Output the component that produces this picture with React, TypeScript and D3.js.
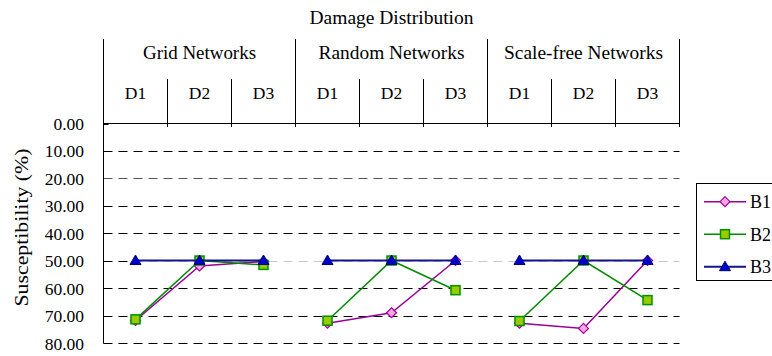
import React from "react";
import * as d3 from "d3";

const groups = ["Grid Networks", "Random Networks", "Scale-free Networks"];
const subCategories = ["D1", "D2", "D3"];
const b1Values = [71.8, 52.0, 50.4, 72.8, 69.0, 50.0, 72.8, 74.7, 50.0];
const b2Values = [71.4, 50.0, 51.6, 71.9, 50.0, 60.8, 72.0, 50.0, 64.4];
const b3Values = [50, 50, 50, 50, 50, 50, 50, 50, 50];
const yTicks = [0, 10, 20, 30, 40, 50, 60, 70, 80];
const seriesNames = ["B1", "B2", "B3"];

const FONT = "Liberation Serif, Times New Roman, DejaVu Serif, serif";
const W = 772;
const H = 356;

const groupTextWidths = [113, 146, 159];

type Series = {
  name: string;
  values: number[];
  line: string;
  stroke: string;
  fill: string;
  shape: "diamond" | "square" | "triangle";
  width: number;
};

const series: Series[] = [
  { name: seriesNames[0], values: b1Values, line: "#990099", stroke: "#a000a0", fill: "#f9a6dc", shape: "diamond", width: 1.5 },
  { name: seriesNames[1], values: b2Values, line: "#008c00", stroke: "#009000", fill: "#99cc00", shape: "square", width: 1.5 },
  { name: seriesNames[2], values: b3Values, line: "#14148a", stroke: "#000080", fill: "#0000cc", shape: "triangle", width: 2 },
];

function Marker({ s, cx, cy }: { s: Series; cx: number; cy: number }) {
  if (s.shape === "diamond") {
    const r = 5;
    return (
      <path
        d={`M${cx},${cy - r}L${cx + r},${cy}L${cx},${cy + r}L${cx - r},${cy}Z`}
        fill={s.fill}
        stroke={s.stroke}
        strokeWidth={1.2}
      />
    );
  }
  if (s.shape === "square") {
    const r = 4.5;
    return <rect x={cx - r} y={cy - r} width={2 * r} height={2 * r} fill={s.fill} stroke={s.stroke} strokeWidth={1.5} />;
  }
  const hw = 5.5;
  return (
    <path
      d={`M${cx},${cy - 5.5}L${cx + hw},${cy + 4}L${cx - hw},${cy + 4}Z`}
      fill={s.fill}
      stroke={s.stroke}
      strokeWidth={1}
    />
  );
}

export default function App() {
  const idx = d3.range(groups.length * subCategories.length);
  const x = d3.scaleBand<number>().domain(idx).range([103.5, 679.5]).padding(0);
  const bw = x.bandwidth();
  const y = d3.scaleLinear().domain([0, 80]).range([123, 343]);
  const cx = (i: number) => (x(i) as number) + bw / 2;
  const left = x.range()[0];
  const right = x.range()[1];

  const groupStart = (g: number) => x(g * 3) as number;
  const groupEnd = (g: number) => (x(g * 3 + 2) as number) + bw;

  const tStyle = { fontFamily: FONT } as React.CSSProperties;

  return (
    <svg width={W} height={H} style={{ position: "absolute", left: 0, top: 0, background: "#fff", fontFamily: FONT }}>
      {/* Title */}
      <text style={tStyle} x={(left + right) / 2} y={24} fontSize={18} textAnchor="middle" textLength={164} lengthAdjust="spacingAndGlyphs" fill="#000">
        Damage Distribution
      </text>

      {/* Group lines and labels */}
      {d3.range(groups.length + 1).map((g) => {
        const gx = g < groups.length ? groupStart(g) : groupEnd(groups.length - 1);
        return <line key={`gl${g}`} x1={gx} x2={gx} y1={39} y2={127} stroke="#000" strokeWidth={1} />;
      })}
      {groups.map((gname, g) => (
        <text
          key={`gt${g}`}
          style={tStyle}
          x={(groupStart(g) + groupEnd(g)) / 2}
          y={58.5}
          fontSize={18}
          textAnchor="middle"
          textLength={groupTextWidths[g]}
          lengthAdjust="spacingAndGlyphs"
          fill="#000"
        >
          {gname}
        </text>
      ))}
      {idx
        .filter((i) => i % 3 !== 0)
        .map((i) => (
          <line key={`sl${i}`} x1={x(i) as number} x2={x(i) as number} y1={79} y2={127} stroke="#000" strokeWidth={1} />
        ))}
      {idx.map((i) => (
        <text key={`dl${i}`} style={tStyle} x={cx(i)} y={98.5} fontSize={17.5} textAnchor="middle" fill="#000">
          {subCategories[i % 3]}
        </text>
      ))}

      {/* Gridlines */}
      {yTicks
        .filter((t) => t !== 0)
        .map((t) => {
          const yy = Math.round(y(t)) + 0.5;
          if (t === 50) {
            return (
              <g key={`g${t}`}>
                <line x1={left} x2={cx(0)} y1={yy} y2={yy} stroke="#000" strokeDasharray="9,6" />
                <line x1={cx(0)} x2={right} y1={yy} y2={yy} stroke="#c8c8c8" strokeDasharray="9,6" strokeDashoffset={(cx(0) - left) % 15} />
              </g>
            );
          }
          return <line key={`g${t}`} x1={left} x2={right} y1={yy} y2={yy} stroke={t === 20 ? "#555" : "#000"} strokeDasharray="9,6" />;
        })}

      {/* Top line and left axis */}
      <line x1={left - 0.5} x2={right} y1={123.5} y2={123.5} stroke="#000" strokeWidth={1} />
      <line x1={left} x2={left} y1={123} y2={343.5} stroke="#000" strokeWidth={1} />
      <line x1={left} x2={left + 5} y1={124.5} y2={124.5} stroke="#000" strokeWidth={1} />

      {/* Y tick labels */}
      {yTicks.map((t) => (
        <text key={`yt${t}`} style={tStyle} x={84} y={y(t) + 6.5} fontSize={17.5} textAnchor="end" fill="#000">
          {t.toFixed(2)}
        </text>
      ))}

      {/* Y axis title */}
      <text
        style={tStyle}
        transform={`translate(28,227.5) rotate(-90)`}
        fontSize={19}
        textAnchor="middle"
        textLength={158}
        lengthAdjust="spacingAndGlyphs"
        fill="#000"
      >
        Susceptibility (%)
      </text>

      {/* Series */}
      {series.map((s) => (
        <g key={s.name}>
          {groups.map((_, g) => {
            const pts = [0, 1, 2].map((k) => g * 3 + k);
            const d = d3
              .line<number>()
              .x((i) => cx(i))
              .y((i) => y(s.values[i]))(pts);
            return <path key={g} d={d || ""} fill="none" stroke={s.line} strokeWidth={s.width} />;
          })}
          {idx.map((i) => (
            <Marker key={i} s={s} cx={cx(i)} cy={y(s.values[i])} />
          ))}
        </g>
      ))}

      {/* Legend */}
      <rect x={696.5} y={183.5} width={90} height={97} fill="none" stroke="#000" strokeWidth={1} />
      {series.map((s, k) => {
        const ly = 201.7 + k * 32.5;
        return (
          <g key={`lg${s.name}`}>
            <line x1={704} x2={746} y1={ly} y2={ly} stroke={s.line} strokeWidth={s.width} />
            <Marker s={s} cx={725} cy={ly} />
            <text style={tStyle} x={750} y={ly + 6.6} fontSize={18} fill="#000">
              {s.name}
            </text>
          </g>
        );
      })}
    </svg>
  );
}
